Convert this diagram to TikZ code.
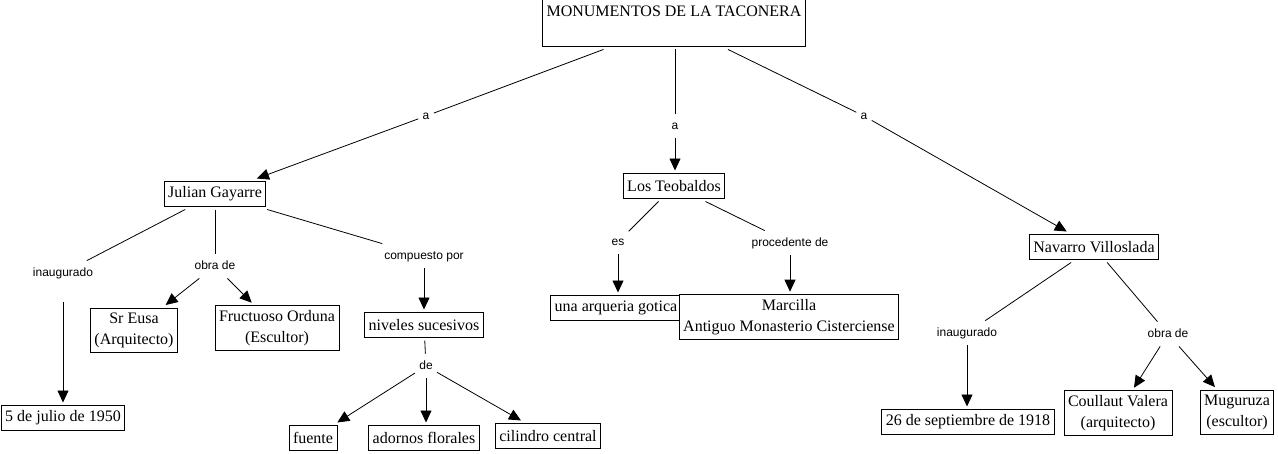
\documentclass[tikz,border=0pt]{standalone}
\usepackage{fontspec}
\setmainfont{Liberation Serif}
\setsansfont{Liberation Sans}
\usepackage{tikz}
\usetikzlibrary{arrows.meta}
\usetikzlibrary{shapes}

\begin{document}
\begin{tikzpicture}[x=1pt,y=-1pt]
\tikzstyle{concept}=[rectangle,draw,fill=white,align=center,inner xsep=4pt,inner ysep=4.5pt,minimum height=25pt,outer sep=3pt,font=\rmfamily\fontsize{16}{21}\selectfont]
\tikzstyle{linking}=[rectangle,inner xsep=4pt,inner ysep=7pt,text height=8pt,text depth=2pt,font=\sffamily\fontsize{12}{14}\selectfont]
\tikzstyle{every path}=[line width=0.8pt]
\tikzstyle{link}=[-{Triangle[length=12pt,width=11pt]}]
\useasboundingbox (0,0) rectangle (1278,453);
% conceptos
\node[concept,inner ysep=6pt] (root) at (674,23) {MONUMENTOS DE LA TACONERA\\[-3pt]\strut};
\node[concept] (gayarre) at (215,194) {Julian Gayarre};
\node[concept] (teobaldos) at (674,186) {Los Teobaldos};
\node[concept] (villoslada) at (1094,247) {Navarro Villoslada};
\node[concept] (fecha1) at (63,418) {5 de julio de 1950};
\node[concept] (eusa) at (134,330) {Sr Eusa\\(Arquitecto)};
\node[concept] (orduna) at (277,328) {Fructuoso Orduna\\(Escultor)};
\node[concept] (niveles) at (424,325) {niveles sucesivos};
\node[concept] (fuente) at (313,438) {fuente};
\node[concept] (adornos) at (424,438) {adornos florales};
\node[concept] (cilindro) at (548,436) {cilindro central};
\node[concept] (arqueria) at (616,308) {una arqueria gotica};
\node[concept] (marcilla) at (789,317) {Marcilla\\Antiguo Monasterio Cisterciense};
\node[concept] (fecha2) at (968,422) {26 de septiembre de 1918};
\node[concept] (coullaut) at (1118,413) {Coullaut Valera\\(arquitecto)};
\node[concept] (muguruza) at (1237,412) {Muguruza\\(escultor)};
% frases de enlace
\node[linking] (a1) at (426,116) {a};
\node[linking] (a2) at (675,126) {a};
\node[linking] (a3) at (864,116) {a};
\node[linking] (inaug1) at (63,273) {inaugurado};
\node[linking] (obra1) at (215,266) {obra de};
\node[linking] (compuesto) at (424,256) {compuesto por};
\node[linking] (de) at (426,366) {de};
\node[linking] (es) at (618,242) {es};
\node[linking] (procedente) at (790,243) {procedente de};
\node[linking] (inaug2) at (967,333) {inaugurado};
\node[linking] (obra2) at (1168,334) {obra de};
% enlaces
\draw (root) -- (a1);
\draw[link] (a1) -- (gayarre);
\draw (root.south -| a2) -- (a2);
\draw[link] (a2) -- (teobaldos.north -| a2);
\draw (root) -- (a3);
\draw[link] (a3) -- (villoslada);
\draw (gayarre) -- (inaug1);
\draw[link,shorten <=17pt] (inaug1) -- (fecha1);
\draw (gayarre) -- (obra1);
\draw[link] (obra1) -- (eusa);
\draw[link] (obra1) -- (orduna);
\draw (gayarre) -- (compuesto);
\draw[link] (compuesto) -- (niveles);
\draw (niveles) -- (de);
\draw[link] (de) -- (fuente);
\draw[link] (de) -- (adornos.north -| de);
\draw[link] (de) -- (cilindro);
\draw (teobaldos) -- (es);
\draw[link] (es) -- (arqueria.north -| es);
\draw (teobaldos) -- (procedente);
\draw[link] (procedente) -- (marcilla.north -| procedente);
\draw (villoslada) -- (inaug2);
\draw[link] (inaug2) -- (fecha2.north -| inaug2);
\draw (villoslada) -- (obra2);
\draw[link] (obra2) -- (coullaut);
\draw[link] (obra2) -- (muguruza);
\end{tikzpicture}
\end{document}
